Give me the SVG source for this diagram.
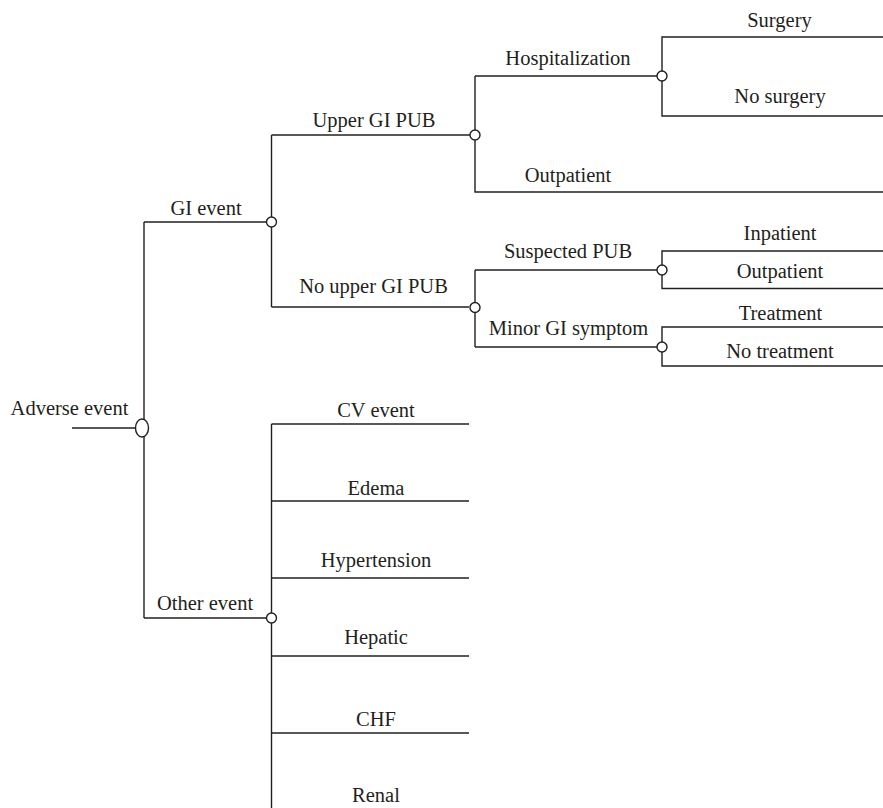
<svg xmlns="http://www.w3.org/2000/svg" width="883" height="808" viewBox="0 0 883 808">
<style>
  .ln { fill: none; stroke: #231f20; stroke-width: 1.4; }
  .nd { fill: #ffffff; stroke: #231f20; stroke-width: 1.4; }
  .lb { font-family: "Liberation Serif", "Times New Roman", serif; font-size: 20.5px; fill: #231f20; text-anchor: middle; }
</style>
<rect width="883" height="808" fill="#ffffff"/>
<g id="connectors">
  <!-- root -->
  <path class="ln" d="M72 428H136"/>
  <path class="ln" d="M144 222V618"/>
  <path class="ln" d="M144 222H266"/>
  <path class="ln" d="M144 618H266"/>
  <!-- GI event -->
  <path class="ln" d="M271.5 135V307"/>
  <path class="ln" d="M271.5 135H470"/>
  <path class="ln" d="M271.5 307H469"/>
  <!-- Upper GI PUB -->
  <path class="ln" d="M475 76V192H883"/>
  <path class="ln" d="M475 76H657"/>
  <!-- Hospitalization -->
  <path class="ln" d="M883 37H662V116H883"/>
  <!-- No upper GI PUB -->
  <path class="ln" d="M475 270V347"/>
  <path class="ln" d="M475 270H657"/>
  <path class="ln" d="M475 347H657"/>
  <!-- Suspected PUB -->
  <path class="ln" d="M883 251H662V288.5H883"/>
  <!-- Minor GI symptom -->
  <path class="ln" d="M883 327H662V366H883"/>
  <!-- Other event -->
  <path class="ln" d="M271.5 424V808"/>
  <path class="ln" d="M271.5 424H469"/>
  <path class="ln" d="M271.5 501H469"/>
  <path class="ln" d="M271.5 578H469"/>
  <path class="ln" d="M271.5 656H469"/>
  <path class="ln" d="M271.5 733H469"/>
</g>
<g id="n-adverse">
  <ellipse class="nd" cx="142" cy="428" rx="6.5" ry="9"/>
  <text class="lb" x="69.5" y="415">Adverse event</text>
</g>
<g id="n-gi">
  <circle class="nd" cx="271.5" cy="222" r="5"/>
  <text class="lb" x="206" y="215">GI event</text>
</g>
<g id="n-other">
  <circle class="nd" cx="271.5" cy="618" r="5"/>
  <text class="lb" x="205" y="610">Other event</text>
</g>
<g id="n-upper">
  <circle class="nd" cx="475" cy="135" r="5"/>
  <text class="lb" x="374" y="127">Upper GI PUB</text>
</g>
<g id="n-noupper">
  <circle class="nd" cx="475" cy="307.5" r="5"/>
  <text class="lb" x="373.5" y="293">No upper GI PUB</text>
</g>
<g id="n-hosp">
  <circle class="nd" cx="662" cy="76" r="5"/>
  <text class="lb" x="568" y="65">Hospitalization</text>
</g>
<g id="n-outpatient1">
  <text class="lb" x="568" y="182">Outpatient</text>
</g>
<g id="n-surgery">
  <text class="lb" x="779.5" y="27">Surgery</text>
</g>
<g id="n-nosurgery">
  <text class="lb" x="780" y="103">No surgery</text>
</g>
<g id="n-suspected">
  <circle class="nd" cx="662" cy="270" r="5"/>
  <text class="lb" x="568" y="258">Suspected PUB</text>
</g>
<g id="n-minor">
  <circle class="nd" cx="662" cy="347" r="5"/>
  <text class="lb" x="568.5" y="335">Minor GI symptom</text>
</g>
<g id="n-inpatient">
  <text class="lb" x="780" y="240">Inpatient</text>
</g>
<g id="n-outpatient2">
  <text class="lb" x="780" y="278">Outpatient</text>
</g>
<g id="n-treatment">
  <text class="lb" x="780.5" y="320">Treatment</text>
</g>
<g id="n-notreatment">
  <text class="lb" x="780" y="358">No treatment</text>
</g>
<g id="n-cv">
  <text class="lb" x="376" y="417">CV event</text>
</g>
<g id="n-edema">
  <text class="lb" x="376" y="495">Edema</text>
</g>
<g id="n-hypertension">
  <text class="lb" x="376" y="567">Hypertension</text>
</g>
<g id="n-hepatic">
  <text class="lb" x="376" y="644">Hepatic</text>
</g>
<g id="n-chf">
  <text class="lb" x="376" y="726">CHF</text>
</g>
<g id="n-renal">
  <text class="lb" x="376" y="802">Renal</text>
</g>
</svg>
